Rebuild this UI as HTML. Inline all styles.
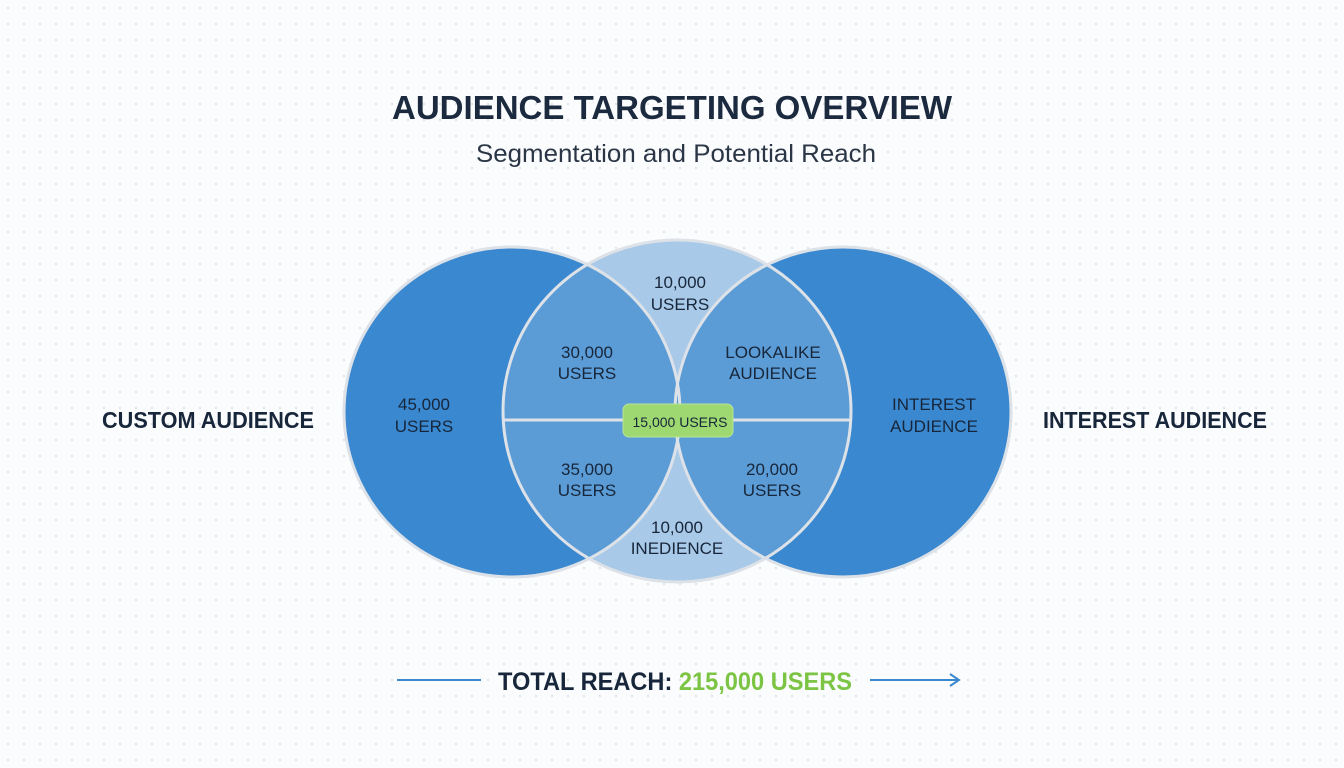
<!DOCTYPE html>
<html><head><meta charset="utf-8"><style>
html,body{margin:0;padding:0;}
body{width:1344px;height:768px;overflow:hidden;background-color:#fbfcfd;background-image:radial-gradient(circle,#dde2e7 1px,transparent 1.3px);background-size:16px 16px;font-family:"Liberation Sans",sans-serif;}
</style></head><body>
<svg width="1344" height="768" style="position:absolute;left:0;top:0" font-family="Liberation Sans, sans-serif">
<defs>
<clipPath id="cm"><ellipse cx="677" cy="411" rx="174" ry="171"/></clipPath>
</defs>
<text x="672" y="119" text-anchor="middle" font-size="33" font-weight="bold" fill="#1b2a3e" textLength="560" lengthAdjust="spacingAndGlyphs">AUDIENCE TARGETING OVERVIEW</text>
<text x="676" y="162" text-anchor="middle" font-size="25" fill="#2a3646" textLength="400" lengthAdjust="spacingAndGlyphs">Segmentation and Potential Reach</text>

<ellipse cx="677" cy="411" rx="174" ry="171" fill="#a9c9e8"/>
<ellipse cx="512" cy="412" rx="168" ry="165" fill="#3a88d0"/>
<ellipse cx="843" cy="412" rx="168" ry="165" fill="#3a88d0"/>
<g clip-path="url(#cm)">
<ellipse cx="512" cy="412" rx="168" ry="165" fill="#5b9cd6"/>
<ellipse cx="843" cy="412" rx="168" ry="165" fill="#5b9cd6"/>
</g>
<g fill="none" stroke="#dde2e8" stroke-width="3">
<ellipse cx="677" cy="411" rx="174" ry="171"/>
<ellipse cx="512" cy="412" rx="168" ry="165"/>
<ellipse cx="843" cy="412" rx="168" ry="165"/>
<line x1="503" y1="420" x2="852" y2="420"/>
</g>
<rect x="623" y="404" width="110" height="33" rx="6" fill="#9ed870" stroke="#b8e49a" stroke-width="1"/>
<g font-size="17" fill="#17263a" text-anchor="middle">
<text x="680" y="427" font-size="14">15,000 USERS</text>
<text x="424" y="410">45,000</text><text x="424" y="432">USERS</text>
<text x="680" y="288">10,000</text><text x="680" y="310">USERS</text>
<text x="587" y="358">30,000</text><text x="587" y="379">USERS</text>
<text x="773" y="358">LOOKALIKE</text><text x="773" y="379">AUDIENCE</text>
<text x="587" y="475">35,000</text><text x="587" y="496">USERS</text>
<text x="772" y="475">20,000</text><text x="772" y="496">USERS</text>
<text x="677" y="533">10,000</text><text x="677" y="554">INEDIENCE</text>
<text x="934" y="410">INTEREST</text><text x="934" y="432">AUDIENCE</text>
</g>
<g font-size="23" font-weight="bold" fill="#17263a">
<text x="208" y="428" text-anchor="middle" textLength="212" lengthAdjust="spacingAndGlyphs">CUSTOM AUDIENCE</text>
<text x="1155" y="428" text-anchor="middle" textLength="224" lengthAdjust="spacingAndGlyphs">INTEREST AUDIENCE</text>
</g>
<line x1="397" y1="680" x2="481" y2="680" stroke="#3a88d0" stroke-width="2"/>
<line x1="870" y1="680" x2="958" y2="680" stroke="#3a88d0" stroke-width="2"/>
<path d="M950 674 L959 680 L950 686" fill="none" stroke="#3a88d0" stroke-width="2"/>
<text x="498" y="690" font-size="25" font-weight="bold" fill="#17263a" textLength="354" lengthAdjust="spacingAndGlyphs">TOTAL REACH: <tspan fill="#7cc444">215,000 USERS</tspan></text>
</svg>
</body></html>
